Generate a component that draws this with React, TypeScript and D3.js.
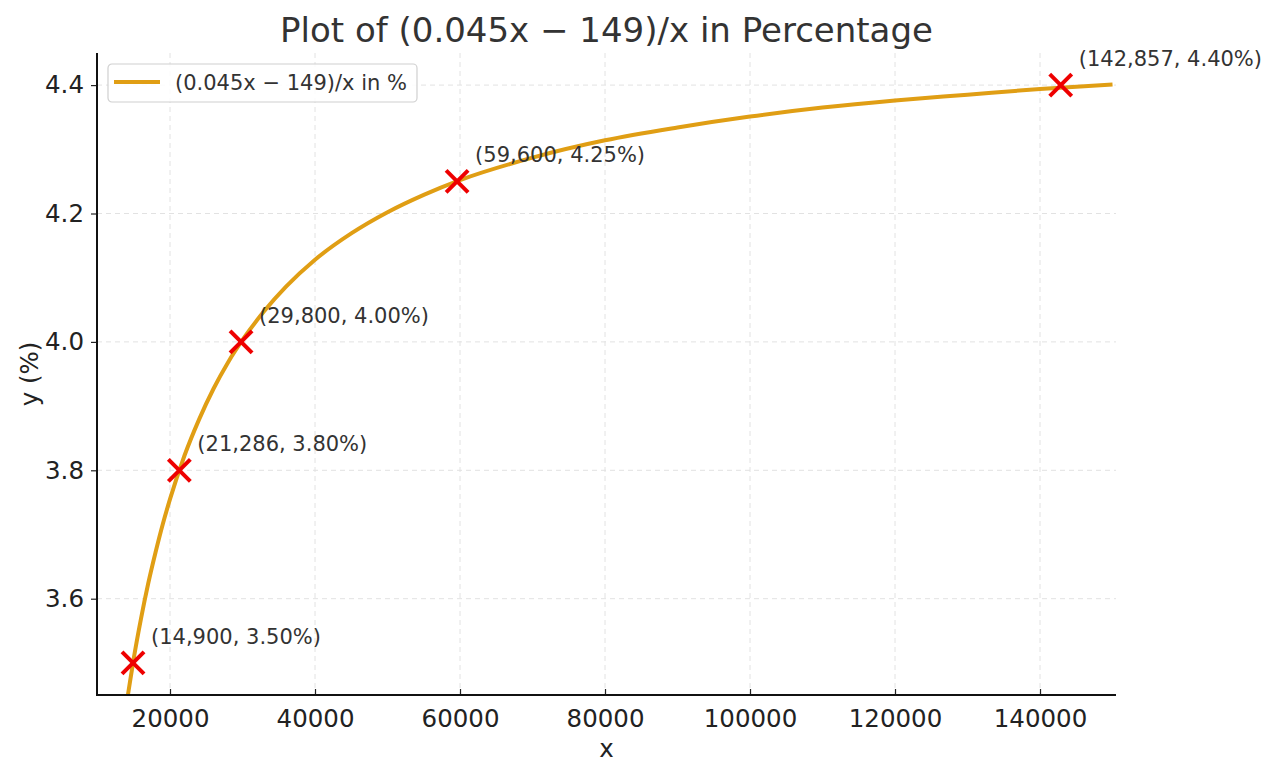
import React, { useRef, useEffect } from 'react';
import * as d3 from 'd3';

const WIDTH = 1280;
const HEIGHT = 777;
const PLOT = { left: 97, right: 1116, top: 53, bottom: 695 };

const TITLE = 'Plot of (0.045x \u2212 149)/x in Percentage';
const LEGEND_LABEL = '(0.045x \u2212 149)/x in %';

// sampled curve
const curveX = [14000, 14500, 15000, 16000, 17000, 18000, 19000, 20000, 22000, 24000, 26000, 28000, 30000,
  33000, 36000, 40000, 45000, 50000, 55000, 60000, 70000, 80000, 90000, 100000, 110000, 120000, 130000, 140000, 150000];
const curveY = [3.436, 3.472, 3.507, 3.569, 3.624, 3.672, 3.716, 3.755, 3.823, 3.879, 3.927, 3.968, 4.003,
  4.048, 4.086, 4.128, 4.169, 4.202, 4.229, 4.252, 4.287, 4.314, 4.334, 4.351, 4.365, 4.376, 4.385, 4.394, 4.401];

// highlighted points
const markX = [14900, 21286, 29800, 59600, 142857];
const markY = [3.5, 3.8, 4.0, 4.25, 4.4];
const markLabels = ['(14,900, 3.50%)', '(21,286, 3.80%)', '(29,800, 4.00%)', '(59,600, 4.25%)', '(142,857, 4.40%)'];

const xTicks = [20000, 40000, 60000, 80000, 100000, 120000, 140000];
const yTicks = [3.6, 3.8, 4.0, 4.2, 4.4];

const FONT = '"DejaVu Sans", sans-serif';
const LINE_COLOR = '#E09E14';
const TICK_FONT = 24.5;

export default function App() {
  const svgRef = useRef<SVGSVGElement>(null);

  useEffect(() => {
    if (!svgRef.current) return;
    const svg = d3.select(svgRef.current);
    svg.selectAll('*').remove();

    const x = d3.scaleLinear().domain([9930, 150480]).range([PLOT.left, PLOT.right]);
    const y = d3.scaleLinear().domain([3.45, 4.45]).range([PLOT.bottom, PLOT.top]);

    svg.append('rect').attr('width', WIDTH).attr('height', HEIGHT).attr('fill', '#fff');

    svg.append('defs').append('clipPath').attr('id', 'plot-clip')
      .append('rect')
      .attr('x', PLOT.left).attr('y', PLOT.top)
      .attr('width', PLOT.right - PLOT.left).attr('height', PLOT.bottom - PLOT.top);

    // Grid
    const grid = svg.append('g').attr('stroke', '#e2e2e2').attr('stroke-width', 1).attr('stroke-dasharray', '5,4');
    grid.selectAll('.gx').data(xTicks).join('line')
      .attr('x1', d => x(d)).attr('x2', d => x(d))
      .attr('y1', PLOT.top).attr('y2', PLOT.bottom);
    grid.selectAll('.gy').data(yTicks).join('line')
      .attr('x1', PLOT.left).attr('x2', PLOT.right)
      .attr('y1', d => y(d)).attr('y2', d => y(d));

    // Curve
    const pts = curveX.map((v, i) => [v, curveY[i]] as [number, number]);
    const line = d3.line<[number, number]>()
      .x(d => x(d[0]))
      .y(d => y(d[1]))
      .curve(d3.curveMonotoneX);
    svg.append('path')
      .datum(pts)
      .attr('d', line)
      .attr('clip-path', 'url(#plot-clip)')
      .attr('fill', 'none')
      .attr('stroke', LINE_COLOR)
      .attr('stroke-width', 4);

    // Markers
    const s = 11;
    const marks = svg.append('g').attr('stroke', '#ee0000').attr('stroke-width', 4);
    markX.forEach((mx, i) => {
      const cx = x(mx);
      const cy = y(markY[i]);
      marks.append('line').attr('x1', cx - s).attr('y1', cy - s).attr('x2', cx + s).attr('y2', cy + s);
      marks.append('line').attr('x1', cx - s).attr('y1', cy + s).attr('x2', cx + s).attr('y2', cy - s);
      svg.append('text')
        .attr('x', cx + 18).attr('y', cy - 19)
        .attr('font-family', FONT).attr('font-size', 21).attr('fill', '#333')
        .text(markLabels[i]);
    });

    // Axes
    const xAxis = d3.axisBottom(x).tickValues(xTicks).tickSize(-6).tickPadding(15).tickFormat(d3.format('d'));
    const yAxis = d3.axisLeft(y).tickValues(yTicks).tickSize(6).tickPadding(7).tickFormat(d3.format('.1f'));
    svg.append('g').attr('transform', `translate(0,${PLOT.bottom})`).call(xAxis)
      .call(a => a.select('.domain').remove())
      .call(a => a.selectAll('line').attr('stroke', '#222').attr('stroke-width', 1.2))
      .call(a => a.selectAll('text').attr('font-family', FONT).attr('font-size', TICK_FONT).attr('fill', '#222'));
    svg.append('g').attr('transform', `translate(${PLOT.left},0)`).call(yAxis)
      .call(a => a.select('.domain').remove())
      .call(a => a.selectAll('line').attr('stroke', '#222').attr('stroke-width', 1.2))
      .call(a => a.selectAll('text').attr('font-family', FONT).attr('font-size', TICK_FONT).attr('fill', '#222'));

    // Spines (left + bottom only)
    svg.append('path')
      .attr('d', `M${PLOT.left},${PLOT.top}V${PLOT.bottom}H${PLOT.right}`)
      .attr('fill', 'none').attr('stroke', '#111').attr('stroke-width', 2);

    // Axis labels
    svg.append('text')
      .attr('x', (PLOT.left + PLOT.right) / 2).attr('y', 757)
      .attr('text-anchor', 'middle')
      .attr('font-family', FONT).attr('font-size', TICK_FONT).attr('fill', '#222')
      .text('x');
    svg.append('text')
      .attr('transform', `translate(38,${(PLOT.top + PLOT.bottom) / 2}) rotate(-90)`)
      .attr('text-anchor', 'middle')
      .attr('font-family', FONT).attr('font-size', TICK_FONT).attr('fill', '#222')
      .text('y (%)');

    // Title
    svg.append('text')
      .attr('x', (PLOT.left + PLOT.right) / 2).attr('y', 42)
      .attr('text-anchor', 'middle')
      .attr('font-family', FONT).attr('font-size', 34).attr('fill', '#333')
      .text(TITLE);

    // Legend
    const lg = svg.append('g').attr('transform', 'translate(108,64)');
    lg.append('rect')
      .attr('width', 309).attr('height', 38).attr('rx', 4)
      .attr('fill', '#fff').attr('fill-opacity', 0.85)
      .attr('stroke', '#d0d0d0').attr('stroke-width', 1.2);
    lg.append('line')
      .attr('x1', 6).attr('x2', 52).attr('y1', 18).attr('y2', 18)
      .attr('stroke', LINE_COLOR).attr('stroke-width', 4);
    lg.append('text')
      .attr('x', 67).attr('y', 26)
      .attr('font-family', FONT).attr('font-size', 21).attr('fill', '#333')
      .text(LEGEND_LABEL);
  }, []);

  return (
    <svg
      ref={svgRef}
      width={WIDTH}
      height={HEIGHT}
      style={{ position: 'absolute', left: 0, top: 0, display: 'block' }}
    />
  );
}
